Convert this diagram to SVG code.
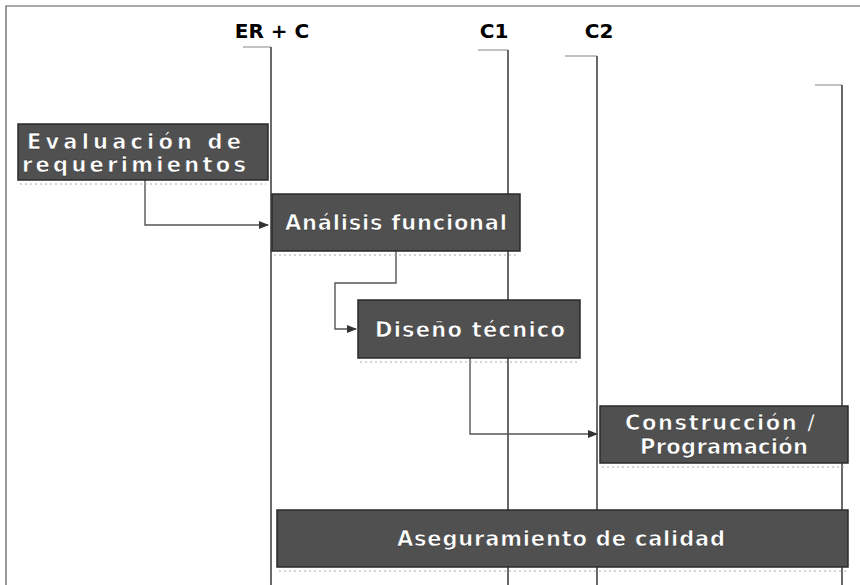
<svg xmlns="http://www.w3.org/2000/svg" width="860" height="585" viewBox="0 0 860 585">
<defs>
<marker id="arr" viewBox="0 0 10 10" refX="9" refY="5" markerWidth="11" markerHeight="10" orient="auto" markerUnits="userSpaceOnUse"><path d="M0,1 L10,5 L0,9 Z" fill="#333"/></marker>
</defs>
<style>
.box{fill:#505050;stroke:#2a2a2a;stroke-width:1.5}
.shadow{fill:none;stroke:#aaa;stroke-width:1;stroke-dasharray:2 3}
.bt{font-family:"DejaVu Sans",Verdana,sans-serif;font-weight:bold;font-size:21px;fill:#fff;stroke:#222;stroke-width:0.5}
.hd{font-family:"DejaVu Sans",Verdana,sans-serif;font-weight:bold;font-size:20px;fill:#000}
.lane{stroke:#444;stroke-width:1.6;fill:none}
.tick{stroke:#999;stroke-width:1.2;fill:none}
.con{stroke:#555;stroke-width:1.4;fill:none}
</style>
<rect width="860" height="585" fill="#fff"/>
<path d="M6,585 V6 H860" fill="none" stroke="#555" stroke-width="1.2"/>

<g id="headers">
<text class="hd" x="272" y="38" text-anchor="middle">ER + C</text>
<text class="hd" x="494" y="38" text-anchor="middle">C1</text>
<text class="hd" x="599" y="38" text-anchor="middle">C2</text>
</g>

<g id="lanes">
<path class="tick" d="M243,47 H271"/><path class="lane" d="M271,47 V585"/>
<path class="tick" d="M478,50 H508"/><path class="lane" d="M508,50 V585"/>
<path class="tick" d="M565,56 H597"/><path class="lane" d="M597,56 V585"/>
<path class="tick" d="M815,85 H842"/><path class="lane" d="M842,85 V585"/>
</g>

<g id="connectors">
<path class="con" d="M145,180 V225 H268" marker-end="url(#arr)"/>
<path class="con" d="M396,251 V283 H335 V329 H356" marker-end="url(#arr)"/>
<path class="con" d="M470,358 V434 H597" marker-end="url(#arr)"/>
</g>

<g id="n1">
<rect class="box" x="18" y="124" width="250" height="56"/>
<path class="shadow" d="M20,184 H266"/>
<text class="bt" x="134" y="149" text-anchor="middle" textLength="214" lengthAdjust="spacing">Evaluación de</text>
<text class="bt" x="134" y="172" text-anchor="middle" textLength="224" lengthAdjust="spacing">requerimientos</text>
</g>

<g id="n2">
<rect class="box" x="272" y="194" width="248" height="57"/>
<path class="shadow" d="M274,255 H518"/>
<text class="bt" x="396" y="230" text-anchor="middle" textLength="222" lengthAdjust="spacing">Análisis funcional</text>
</g>

<g id="n3">
<rect class="box" x="358" y="300" width="222" height="58"/>
<path class="shadow" d="M360,362 H578"/>
<text class="bt" x="470" y="337" text-anchor="middle" textLength="190" lengthAdjust="spacing">Diseño técnico</text>
</g>

<g id="n4">
<rect class="box" x="600" y="406" width="248" height="57"/>
<path class="shadow" d="M602,467 H846"/>
<text class="bt" x="720" y="430" text-anchor="middle" textLength="190" lengthAdjust="spacing">Construcción /</text>
<text class="bt" x="724" y="454" text-anchor="middle" textLength="168" lengthAdjust="spacing">Programación</text>
</g>

<g id="n5">
<rect class="box" x="277" y="510" width="571" height="57"/>
<path class="shadow" d="M279,571 H846"/>
<text class="bt" x="561" y="546" text-anchor="middle" textLength="328" lengthAdjust="spacing">Aseguramiento de calidad</text>
</g>
</svg>
